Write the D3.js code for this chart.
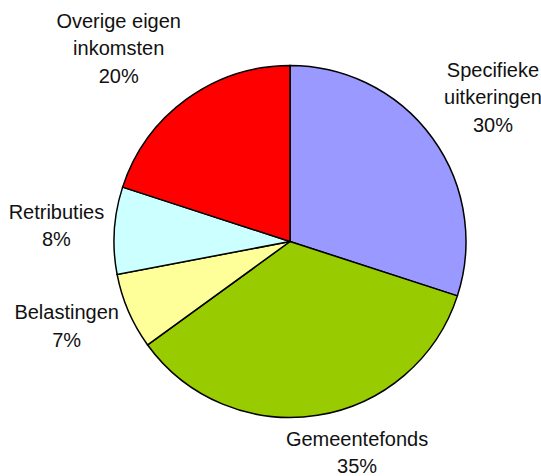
<!DOCTYPE html>
<html>
<head>
<meta charset="utf-8">
<script src="https://cdn.jsdelivr.net/npm/d3@7"></script>
<style>
  body { margin: 0; background: #fff; }
  svg { display: block; }
  .slice { stroke: #000; stroke-width: 1.5; }
  .label { font-family: "Liberation Sans", Arial, sans-serif; font-size: 20px; fill: #111; }
</style>
</head>
<body>
<svg width="541" height="476"></svg>
<script>
// chart data
const categories = ["Specifieke uitkeringen", "Gemeentefonds", "Belastingen", "Retributies", "Overige eigen inkomsten"];
const labelLines = [["Specifieke", "uitkeringen"], ["Gemeentefonds"], ["Belastingen"], ["Retributies"], ["Overige eigen", "inkomsten"]];
const values = [30, 35, 7, 8, 20];
const colors = ["#9999ff", "#99cc00", "#ffff99", "#ccffff", "#ff0000"];

// label nudges (layout only)
const labelNudge = [[4, 0], [33, -4], [-1, -12], [1, -1.5], [-24, 9.5]];

const width = 541, height = 476;
const cx = 290, cy = 241.5, radius = 176;
const lineH = 27.5, capH = 14.3, labelGap = 186;

const svg = d3.select("svg");
const g = svg.append("g").attr("transform", "translate(" + cx + "," + cy + ")");

const pie = d3.pie().sort(null).value((d, i) => values[i]);
const arc = d3.arc().innerRadius(0).outerRadius(radius);
const arcs = pie(categories);

g.selectAll(".slice")
  .data(arcs)
  .enter()
  .append("path")
  .attr("class", "slice")
  .attr("fill", (d, i) => colors[i])
  .attr("d", arc);

arcs.forEach(function(d, i) {
  const lines = labelLines[i].concat([values[i] + "%"]);
  const t = svg.append("text")
    .attr("class", "label")
    .attr("text-anchor", "middle");
  lines.forEach(function(s, j) {
    t.append("tspan").attr("x", 0).attr("y", j * lineH).text(s);
  });
  const bw = t.node().getBBox().width;
  const hw = bw / 2, hh = ((lines.length - 1) * lineH + capH) / 2;
  const a = (d.startAngle + d.endAngle) / 2;
  const s = Math.sin(a), c = Math.cos(a);
  const dist = labelGap + hw * Math.abs(s) + hh * Math.abs(c);
  const x = cx + dist * s + labelNudge[i][0];
  const y = cy - dist * c + labelNudge[i][1];
  const firstBase = y - hh + capH;
  t.attr("transform", "translate(" + x + "," + firstBase + ")");
});
</script>
</body>
</html>
